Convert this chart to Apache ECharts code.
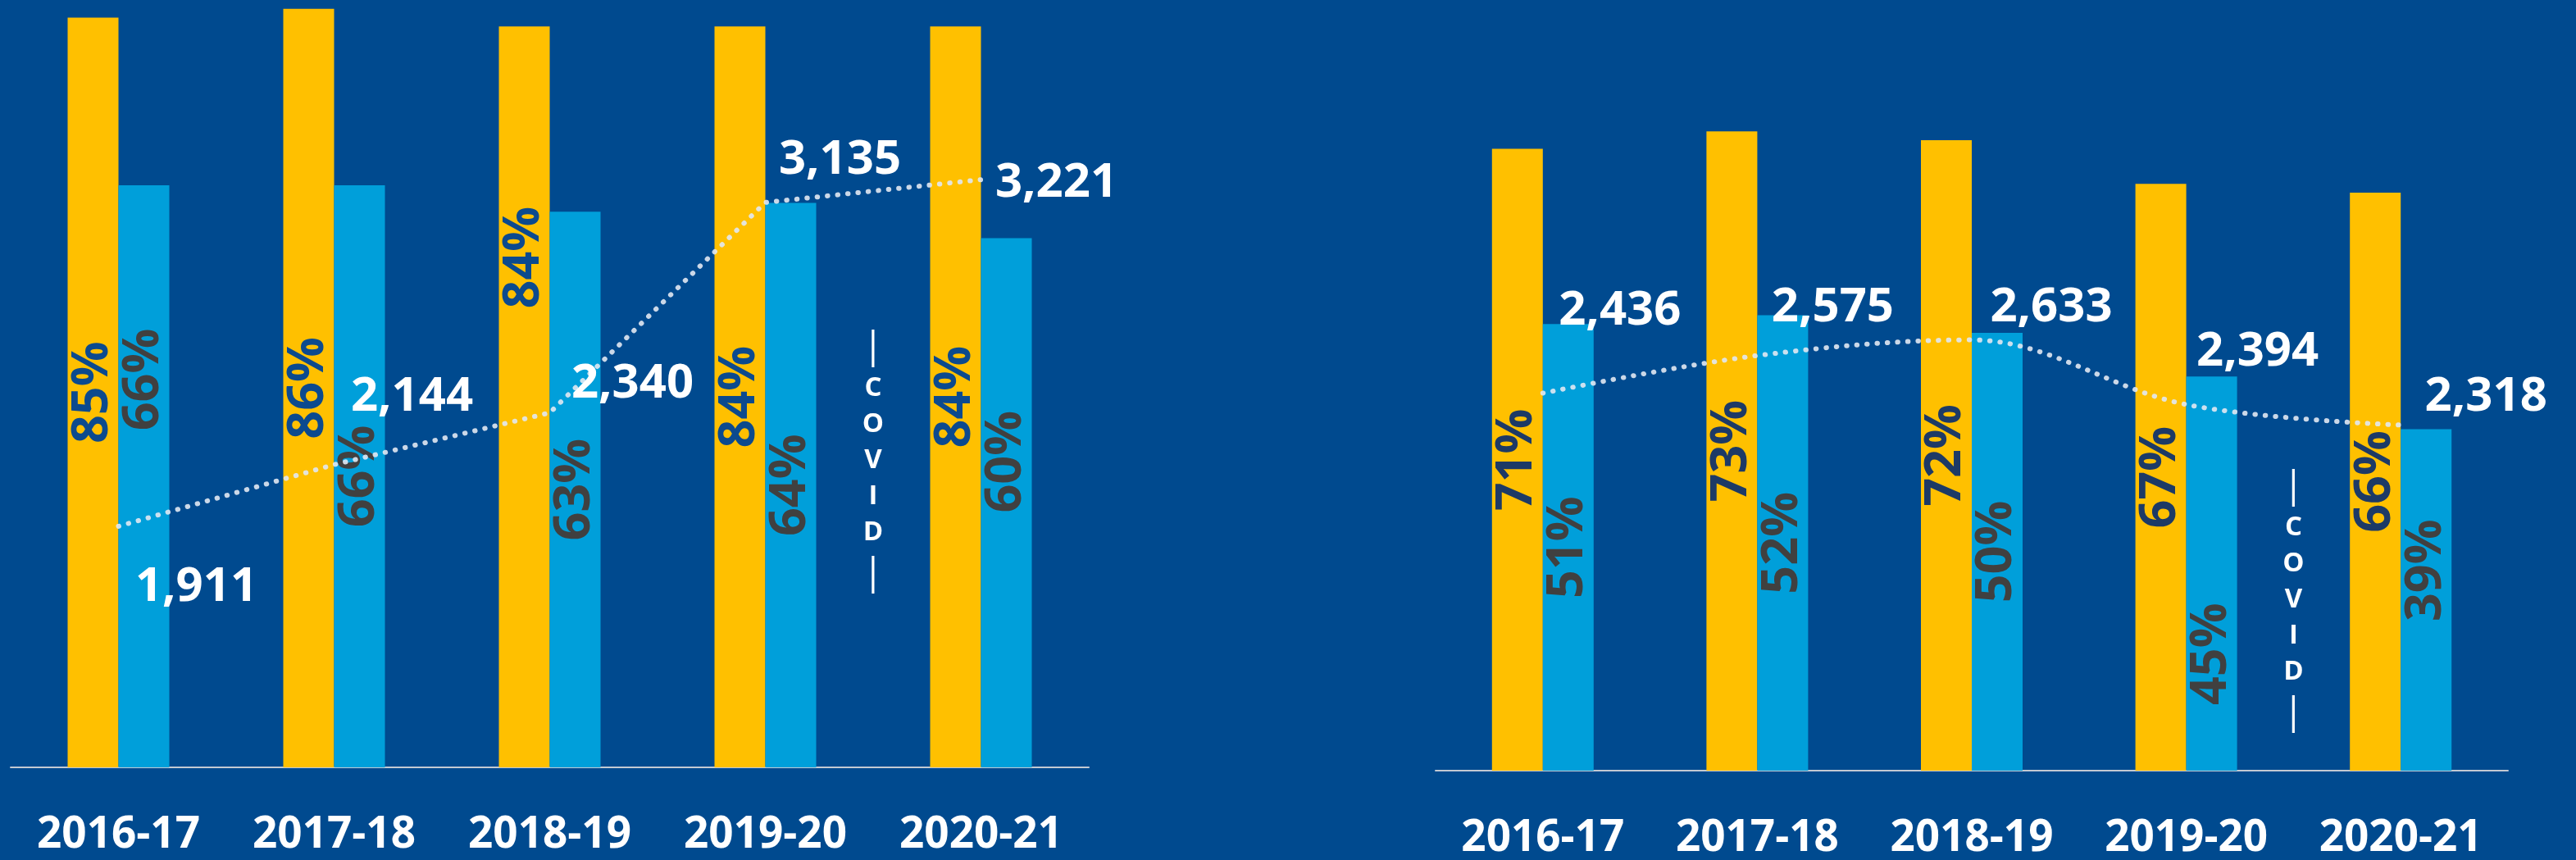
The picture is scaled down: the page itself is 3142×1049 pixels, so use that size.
<!DOCTYPE html>
<html>
<head>
<meta charset="utf-8">
<script src="https://cdn.jsdelivr.net/npm/echarts@6/dist/echarts.min.js"></script>
<style>
html,body{margin:0;padding:0;background:#004a8f;}
#main{width:3142px;height:1049px;}
</style>
</head>
<body>
<div id="main"></div>
<script>
var years = ['2016-17', '2017-18', '2018-19', '2019-20', '2020-21'];
var leftGold = [85, 86, 84, 84, 84];
var leftBlue = [66, 66, 63, 64, 60];
var leftCount = [1911, 2144, 2340, 3135, 3221];
var rightGold = [71, 73, 72, 67, 66];
var rightBlue = [51, 52, 50, 45, 39];
var rightCount = [2436, 2575, 2633, 2394, 2318];

// label nudges (px), rotated labels move along the bar
var leftGoldShift = [0, 0, 170, 0, 0];
var leftBlueShift = [118, 0, 0, 0, 50];
var rightGoldShift = [0, 0, 0, 0, 0];
var rightBlueShift = [0, 0, 0, -98, 36];
var leftCountOff = [[95, 75], [95, -82], [101, -35], [91, -51], [92, 4]];
var rightCountOff = [[94, -100], [92, -58], [97, -39], [87, -64], [104, -34]];

var FONT = '"Open Sans", Lato, sans-serif';
var GOLD = '#ffc000', BLUE = '#009fda';

function barData(vals, shift){
	var out = [];
	for (var i = 0; i < vals.length; i++) {
		out.push({value: vals[i], label: {offset: [shift[i], 0]}});
	}
	return out;
}
function lineData(vals, off){
	var out = [];
	for (var i = 0; i < vals.length; i++) {
		out.push({value: vals[i], label: {offset: off[i]}});
	}
	return out;
}
function bar(name, xi, yi, vals, shift, color, txtColor){
	return {
		name: name, type: 'bar', xAxisIndex: xi, yAxisIndex: yi,
		barWidth: 62, barGap: '0%',
		itemStyle: {color: color},
		label: {
			show: true, position: 'inside', rotate: 90,
			formatter: '{c}%', color: txtColor,
			fontFamily: FONT, fontWeight: 'bold', fontSize: 61
		},
		data: barData(vals, shift)
	};
}
function line(name, xi, yi, vals, off, smooth){
	return {
		name: name, type: 'line', xAxisIndex: xi, yAxisIndex: yi,
		smooth: smooth, symbol: 'circle', symbolSize: 0,
		lineStyle: {color: 'rgba(225,232,242,0.9)', width: 6, type: [0.5, 12], cap: 'round'},
		label: {
			show: true, position: 'inside', color: '#ffffff',
			fontFamily: FONT, fontWeight: 'bold', fontSize: 58,
			formatter: function(p){ return p.value.toLocaleString('en-US'); }
		},
		z: 5,
		data: lineData(vals, off)
	};
}
function catAxis(gi){
	return {
		type: 'category', gridIndex: gi, data: years,
		axisLine: {lineStyle: {color: '#c3c9d3', width: 2}},
		axisTick: {show: false},
		axisLabel: {color: '#ffffff', fontFamily: FONT, fontWeight: 'bold', fontSize: 53, margin: 56}
	};
}
function valAxis(gi, min, max){
	return {
		type: 'value', gridIndex: gi, min: min, max: max,
		show: false, splitLine: {show: false}
	};
}

var myChart = echarts.init(document.getElementById('main'));
var option = {
	backgroundColor: '#004a8f',
	animation: false,
	grid: [
		{left: 13, top: 0, width: 1315, height: 936},
		{left: 1751, top: 0, width: 1308, height: 940}
	],
	xAxis: [catAxis(0), catAxis(1)],
	yAxis: [
		valAxis(0, 0, 87), valAxis(0, 1000, 3900),
		valAxis(1, 0, 88), valAxis(1, 1040, 3890)
	],
	series: [
		bar('left gold', 0, 0, leftGold, leftGoldShift, GOLD, '#0c4a8e'),
		bar('left blue', 0, 0, leftBlue, leftBlueShift, BLUE, '#404040'),
		line('left count', 0, 1, leftCount, leftCountOff, false),
		bar('right gold', 1, 2, rightGold, rightGoldShift, GOLD, '#1d3a66'),
		bar('right blue', 1, 2, rightBlue, rightBlueShift, BLUE, '#404040'),
		line('right count', 1, 3, rightCount, rightCountOff, 0.35)
	]
};
myChart.setOption(option);

// COVID marker between 2019-20 and 2020-21
function covidText(gi, top){
	var a = myChart.convertToPixel({xAxisIndex: gi}, years[3]);
	var b = myChart.convertToPixel({xAxisIndex: gi}, years[4]);
	return {
		type: 'text', x: (a + b) / 2, y: top,
		style: {
			text: '{b||}\n{l|C}\n{l|O}\n{l|V}\n{l|I}\n{l|D}\n{b||}',
			align: 'center', verticalAlign: 'top',
			rich: {
				b: {fill: '#ffffff', fontFamily: FONT, fontSize: 46, lineHeight: 56},
				l: {fill: '#ffffff', fontFamily: FONT, fontWeight: 'bold', fontSize: 33, lineHeight: 44}
			}
		}
	};
}
myChart.setOption({graphic: [covidText(0, 396), covidText(1, 566)]});
</script>
</body>
</html>
